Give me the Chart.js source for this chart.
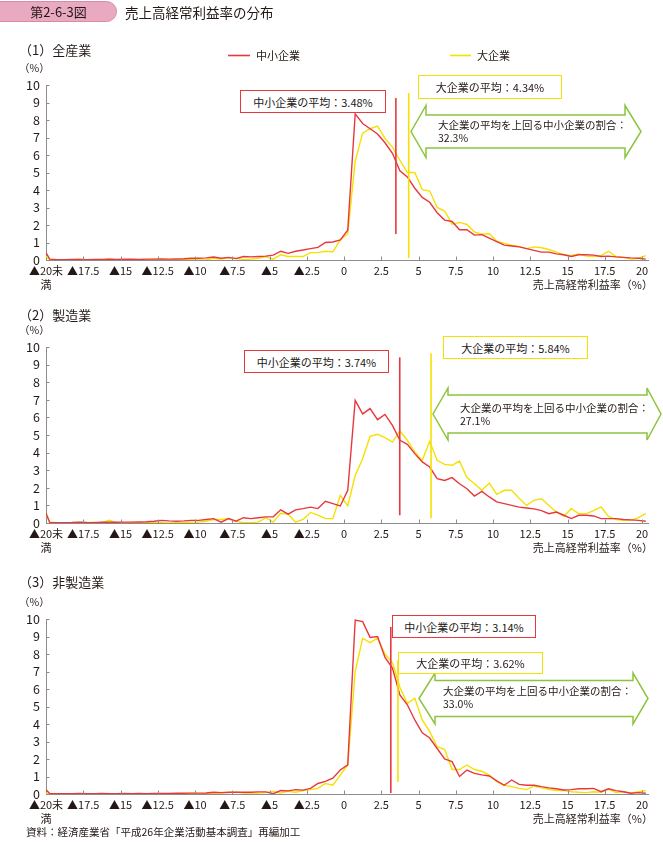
<!DOCTYPE html>
<html>
<head>
<meta charset="utf-8">
<script src="https://cdn.jsdelivr.net/npm/chart.js@4/dist/chart.umd.min.js"></script>
<style>
  body { margin: 0; width: 663px; height: 842px; position: relative; background: #fff; overflow: hidden;
         font-family: "Noto Sans CJK JP", sans-serif; color: #231815; }
  canvas { position: absolute; left: 0; }
  .t { position: absolute; white-space: nowrap; z-index: 2; }
  .box { position: absolute; box-sizing: border-box; background: #fff; font-size: 11px; z-index: 2;
         display: flex; align-items: center; justify-content: center; white-space: nowrap; }
  svg { position: absolute; left: 0; top: 0; z-index: 1; }
</style>
</head>
<body>
<div class="t" style="left:-12px;top:1px;width:129px;height:21px;background:#e9a9c1;border:1px solid #d98aa8;border-radius:0 11px 11px 0;box-sizing:border-box;text-align:center;line-height:19px;font-size:13px;padding-left:12px">第2-6-3図</div>
<div class="t" style="left:125px;top:4px;font-size:13.5px;line-height:16px">売上高経常利益率の分布</div>
<div class="t" style="left:26px;top:825px;font-size:10.5px;line-height:14px">資料：経済産業省「平成26年企業活動基本調査」再編加工</div>
<svg id="arrows" width="663" height="842"></svg>
<canvas id="c0" width="663" height="240" style="top:60px"></canvas>
<canvas id="c1" width="663" height="241" style="top:322px"></canvas>
<canvas id="c2" width="663" height="240" style="top:594px"></canvas>
<script>
// 区分：▲20未満、0.5%刻みの階級（中央値）、20以上
const binX = [-20];
for (let v = -19.75; v < 20; v += 0.5) binX.push(v);
binX.push(20.25);

const xTickValues = [-20, -17.5, -15, -12.5, -10, -7.5, -5, -2.5, 0, 2.5, 5, 7.5, 10, 12.5, 15, 17.5, 20];
const yTickValues = [0, 1, 2, 3, 4, 5, 6, 7, 8, 9, 10];

const panelTitles = ['（1）全産業', '（2）製造業', '（3）非製造業'];
const seriesNames = ['中小企業', '大企業'];

// (1) 全産業
const smeAll = [0.42,
  0.05, 0.02, 0.02, 0.03, 0.03, 0.02, 0.03, 0.03, 0.04, 0.03,
  0.04, 0.04, 0.03, 0.05, 0.05, 0.06, 0.05, 0.06, 0.07, 0.1,
  0.1, 0.12, 0.17, 0.1, 0.15, 0.08, 0.2, 0.18, 0.2, 0.22,
  0.28, 0.5, 0.38, 0.5, 0.57, 0.65, 0.72, 1.0, 1.03, 1.15,
  1.7, 8.35, 7.8, 7.5, 7.2, 6.7, 6.1, 5.1, 4.75, 4.1,
  3.58, 3.3, 2.7, 2.28, 2.2, 1.73, 1.73, 1.42, 1.45, 1.25,
  1.05, 0.85, 0.8, 0.75, 0.65, 0.55, 0.45, 0.45, 0.35, 0.3,
  0.2, 0.3, 0.3, 0.28, 0.2, 0.22, 0.18, 0.15, 0.12, 0.1,
  0.05];
const largeAll = [0.2,
  0.02, 0.0, 0.0, 0.02, 0.05, 0.0, 0.02, 0.0, 0.06, 0.0,
  0.02, 0.01, 0.0, 0.02, 0.03, 0.02, 0.02, 0.0, 0.02, 0.03,
  0.0, 0.02, 0.1, 0.05, 0.12, 0.1, 0.02, 0.05, 0.1, 0.2,
  0.05, 0.3, 0.2, 0.2, 0.2, 0.42, 0.42, 0.5, 0.47, 1.14,
  1.5, 5.65, 7.25, 7.5, 7.65, 6.95, 6.45, 5.7, 5.0, 5.0,
  4.02, 3.94, 3.0, 2.8, 2.05, 2.15, 2.03, 1.6, 1.47, 1.5,
  1.08, 0.95, 0.85, 0.78, 0.65, 0.75, 0.7, 0.6, 0.45, 0.3,
  0.25, 0.35, 0.22, 0.2, 0.25, 0.5, 0.2, 0.15, 0.05, 0.1,
  0.25];

// (2) 製造業
const smeMfg = [0.57,
  0.03, 0.02, 0.02, 0.03, 0.05, 0.03, 0.02, 0.04, 0.05, 0.04,
  0.05, 0.05, 0.06, 0.07, 0.1, 0.15, 0.12, 0.1, 0.12, 0.15,
  0.15, 0.2, 0.25, 0.05, 0.25, 0.1, 0.3, 0.25, 0.3, 0.35,
  0.35, 0.75, 0.5, 0.75, 0.82, 0.9, 0.82, 1.23, 1.1, 0.97,
  1.86, 6.97, 6.2, 6.5, 5.87, 6.17, 5.55, 4.7, 4.47, 3.94,
  3.47, 3.18, 2.52, 2.42, 2.58, 2.23, 1.95, 1.53, 1.8, 1.48,
  1.2, 1.1, 1.0, 0.9, 0.85, 0.8, 0.7, 0.53, 0.62, 0.44,
  0.25, 0.44, 0.44, 0.4, 0.25, 0.25, 0.25, 0.2, 0.18, 0.15,
  0.1];
const largeMfg = [0.5,
  0.05, 0.03, 0.02, 0.02, 0.03, 0.02, 0.05, 0.02, 0.15, 0.0,
  0.02, 0.03, 0.02, 0.02, 0.03, 0.02, 0.0, 0.02, 0.03, 0.05,
  0.05, 0.1, 0.2, 0.2, 0.25, 0.1, 0.02, 0.03, 0.05, 0.3,
  0.05, 0.55, 0.5, 0.05, 0.2, 0.6, 0.45, 0.25, 0.25, 1.57,
  0.97, 2.7, 3.65, 4.92, 5.04, 4.85, 4.6, 5.23, 4.7, 4.03,
  3.56, 4.64, 3.56, 3.33, 3.28, 3.52, 2.58, 2.23, 1.86, 2.27,
  1.63, 1.86, 1.86, 1.4, 1.0, 1.29, 1.38, 1.0, 0.63, 0.38,
  0.81, 0.53, 0.53, 0.7, 0.91, 0.38, 0.19, 0.15, 0.15, 0.3,
  0.53];

// (3) 非製造業
const smeNonMfg = [0.25,
  0.03, 0.02, 0.02, 0.02, 0.03, 0.02, 0.02, 0.03, 0.02, 0.02,
  0.03, 0.02, 0.03, 0.02, 0.03, 0.03, 0.03, 0.04, 0.04, 0.05,
  0.05, 0.06, 0.1, 0.08, 0.1, 0.1, 0.1, 0.1, 0.12, 0.12,
  0.02, 0.2, 0.18, 0.25, 0.22, 0.32, 0.6, 0.72, 0.9, 1.37,
  1.66, 9.94, 9.85, 8.95, 9.0, 7.8, 7.2, 5.66, 5.1, 4.23,
  3.5, 3.2, 2.6, 2.0, 1.85, 1.0, 1.37, 1.18, 1.09, 1.03,
  0.75, 0.5, 0.8, 0.55, 0.5, 0.5, 0.42, 0.35, 0.3, 0.23,
  0.25, 0.3, 0.3, 0.32, 0.13, 0.3, 0.19, 0.13, 0.04, 0.08,
  0.04];
const largeNonMfg = [0.05,
  0.02, 0.0, 0.02, 0.02, 0.01, 0.02, 0.02, 0.0, 0.02, 0.02,
  0.02, 0.02, 0.01, 0.02, 0.02, 0.02, 0.01, 0.02, 0.02, 0.03,
  0.02, 0.03, 0.05, 0.05, 0.08, 0.12, 0.05, 0.05, 0.05, 0.08,
  0.15, 0.05, 0.15, 0.1, 0.2, 0.25, 0.32, 0.6, 0.5, 1.08,
  1.66, 7.0, 8.9, 8.65, 8.9, 8.0, 7.5, 6.1, 5.18, 5.47,
  4.23, 3.56, 2.7, 2.55, 1.4, 1.4, 1.66, 1.4, 1.3, 1.08,
  0.7, 0.5, 0.42, 0.32, 0.25, 0.46, 0.35, 0.27, 0.2, 0.19,
  0.13, 0.1, 0.08, 0.13, 0.1, 0.27, 0.08, 0.13, 0.04, 0.13,
  0.19];

const smeSeries = [smeAll, smeMfg, smeNonMfg];
const largeSeries = [largeAll, largeMfg, largeNonMfg];
const smeMeans = [3.48, 3.74, 3.14];
const largeMeans = [4.34, 5.84, 3.62];
const shareAbove = ['32.3', '27.1', '33.0'];

const RED = '#e8383d';
const YELLOW = '#f5e100';
const GREEN = '#8cc43f';
const AXIS = '#8c8c8c';
const TICK_FONT = "'Liberation Sans Narrow', 'Noto Sans CJK JP', sans-serif";

// 注記の配置（ピクセル）
const layout = [
  { top: 60, h: 240, areaTop: 85, areaBottom: 260, headTop: 42,
    smeLine: [1.49, 9.26], largeLine: [0.11, 9.54],
    smeBox: [240, 90, 146, 23], largeBox: [418, 75, 144, 24],
    arrow: { xl: 411, xr: 641, yc: 131.5, xl2: 426, xr2: 625, hh: 26, bh: 16.5 },
    note: [438, 119, 12.5] },
  { top: 322, h: 241, areaTop: 347, areaBottom: 523, headTop: 307,
    smeLine: [0.44, 9.41], largeLine: [0.27, 9.64],
    smeBox: [244, 350, 145, 23], largeBox: [443, 336, 145, 23],
    arrow: { xl: 433, xr: 661, yc: 414, xl2: 448, xr2: 647, hh: 26, bh: 19 },
    note: [460, 400.5, 13] },
  { top: 594, h: 240, areaTop: 619, areaBottom: 794, headTop: 574,
    smeLine: [0.06, 9.54], largeLine: [0.69, 7.66],
    smeBox: [392, 615, 144, 23], largeBox: [398, 652, 145, 22],
    arrow: { xl: 419, xr: 648, yc: 698.5, xl2: 435, xr2: 633, hh: 25.5, bh: 18 },
    note: [443, 683.5, 13.5] }
];

function addText(html, left, top, size, lh, extra) {
  const d = document.createElement('div');
  d.className = 't';
  d.style.cssText = `left:${left}px;top:${top}px;font-size:${size}px;line-height:${lh}px;` + (extra || '');
  d.innerHTML = html;
  document.body.appendChild(d);
  return d;
}

function addBox(text, rect, color) {
  const d = document.createElement('div');
  d.className = 'box';
  d.style.cssText = `left:${rect[0]}px;top:${rect[1]}px;width:${rect[2]}px;height:${rect[3]}px;border:1.5px solid ${color};`;
  d.textContent = text;
  document.body.appendChild(d);
}

function addArrow(a) {
  const svg = document.getElementById('arrows');
  const p = [
    [a.xl, a.yc], [a.xl2, a.yc - a.hh], [a.xl2, a.yc - a.bh], [a.xr2, a.yc - a.bh],
    [a.xr2, a.yc - a.hh], [a.xr, a.yc], [a.xr2, a.yc + a.hh], [a.xr2, a.yc + a.bh],
    [a.xl2, a.yc + a.bh], [a.xl2, a.yc + a.hh]
  ].map(q => q.join(',')).join(' ');
  const poly = document.createElementNS('http://www.w3.org/2000/svg', 'polygon');
  poly.setAttribute('points', p);
  poly.setAttribute('fill', '#fff');
  poly.setAttribute('stroke', GREEN);
  poly.setAttribute('stroke-width', '1.5');
  svg.appendChild(poly);
}

// 軸の内向き目盛り
const innerTicks = {
  id: 'innerTicks',
  afterDraw(chart) {
    const { ctx, chartArea: a, scales: { x, y } } = chart;
    ctx.save();
    ctx.strokeStyle = AXIS;
    ctx.lineWidth = 1;
    ctx.beginPath();
    y.ticks.forEach(t => {
      const py = Math.round(y.getPixelForValue(t.value)) + 0.5;
      ctx.moveTo(a.left, py); ctx.lineTo(a.left + 3.5, py);
    });
    x.ticks.forEach(t => {
      if (t.value === -20) return;
      const px = Math.round(x.getPixelForValue(t.value)) + 0.5;
      ctx.moveTo(px, a.bottom); ctx.lineTo(px, a.bottom - 3.5);
    });
    ctx.stroke();
    ctx.restore();
  }
};

function xLabel(v) {
  if (v === -20) return ['▲20未', '満'];
  return v < 0 ? '▲' + (-v) : String(v);
}

const toPoints = vals => binX.map((x, i) => ({ x, y: vals[i] }));

layout.forEach((L, i) => {
  // 見出し・単位・軸タイトル
  addText(panelTitles[i], 19, L.headTop, 13, 16);
  addText('（%）', 19, L.areaTop - 24, 10.5, 13);
  addText('売上高経常利益率（%）', 0, L.areaBottom + 17, 11, 14, 'left:auto;right:10px;');

  addBox(`${seriesNames[0]}の平均：${smeMeans[i].toFixed(2)}%`, L.smeBox, RED);
  addBox(`${seriesNames[1]}の平均：${largeMeans[i].toFixed(2)}%`, L.largeBox, YELLOW);
  addArrow(L.arrow);
  addText(`大企業の平均を上回る中小企業の割合：<br>${shareAbove[i]}%`, L.note[0], L.note[1], 10.5, L.note[2]);

  new Chart(document.getElementById('c' + i), {
    type: 'line',
    data: {
      datasets: [
        { label: seriesNames[1] + '平均', data: [{ x: largeMeans[i], y: L.largeLine[0] }, { x: largeMeans[i], y: L.largeLine[1] }],
          borderColor: YELLOW, borderWidth: 1.6, pointRadius: 0 },
        { label: seriesNames[0] + '平均', data: [{ x: smeMeans[i], y: L.smeLine[0] }, { x: smeMeans[i], y: L.smeLine[1] }],
          borderColor: RED, borderWidth: 1.6, pointRadius: 0 },
        { label: seriesNames[0], data: toPoints(smeSeries[i]), borderColor: RED, borderWidth: 1.4, pointRadius: 0, tension: 0 },
        { label: seriesNames[1], data: toPoints(largeSeries[i]), borderColor: YELLOW, borderWidth: 1.4, pointRadius: 0, tension: 0 }
      ]
    },
    options: {
      responsive: false,
      animation: false,
      layout: { padding: { left: 0, right: 15, top: L.areaTop - L.top, bottom: 0 } },
      plugins: { legend: { display: false }, tooltip: { enabled: false } },
      scales: {
        x: {
          type: 'linear', min: -20, max: 20.4,
          afterBuildTicks: s => { s.ticks = xTickValues.map(v => ({ value: v })); },
          afterFit: s => { s.height = L.top + L.h - L.areaBottom; },
          grid: { drawOnChartArea: false, drawTicks: false },
          border: { color: AXIS, width: 1 },
          ticks: { padding: 4, color: '#231815', maxRotation: 0, autoSkip: false,
                   font: { family: TICK_FONT, size: 11, lineHeight: 1.25 }, callback: xLabel }
        },
        y: {
          min: 0, max: 10,
          afterBuildTicks: s => { s.ticks = yTickValues.map(v => ({ value: v })); },
          afterFit: s => { s.width = 46; },
          grid: { drawOnChartArea: false, drawTicks: false },
          border: { color: AXIS, width: 1 },
          ticks: { padding: 6, color: '#231815', autoSkip: false, font: { family: TICK_FONT, size: 12.5 } }
        }
      }
    },
    plugins: [innerTicks]
  });
});

// 凡例
(function legend() {
  const svg = document.getElementById('arrows');
  [[228, 250, RED], [450, 471, YELLOW]].forEach(([x1, x2, c]) => {
    const l = document.createElementNS('http://www.w3.org/2000/svg', 'line');
    l.setAttribute('x1', x1); l.setAttribute('x2', x2);
    l.setAttribute('y1', 55.5); l.setAttribute('y2', 55.5);
    l.setAttribute('stroke', c); l.setAttribute('stroke-width', 1.6);
    svg.appendChild(l);
  });
  addText(seriesNames[0], 256, 48, 11, 14);
  addText(seriesNames[1], 477, 48, 11, 14);
})();
</script>
</body>
</html>
